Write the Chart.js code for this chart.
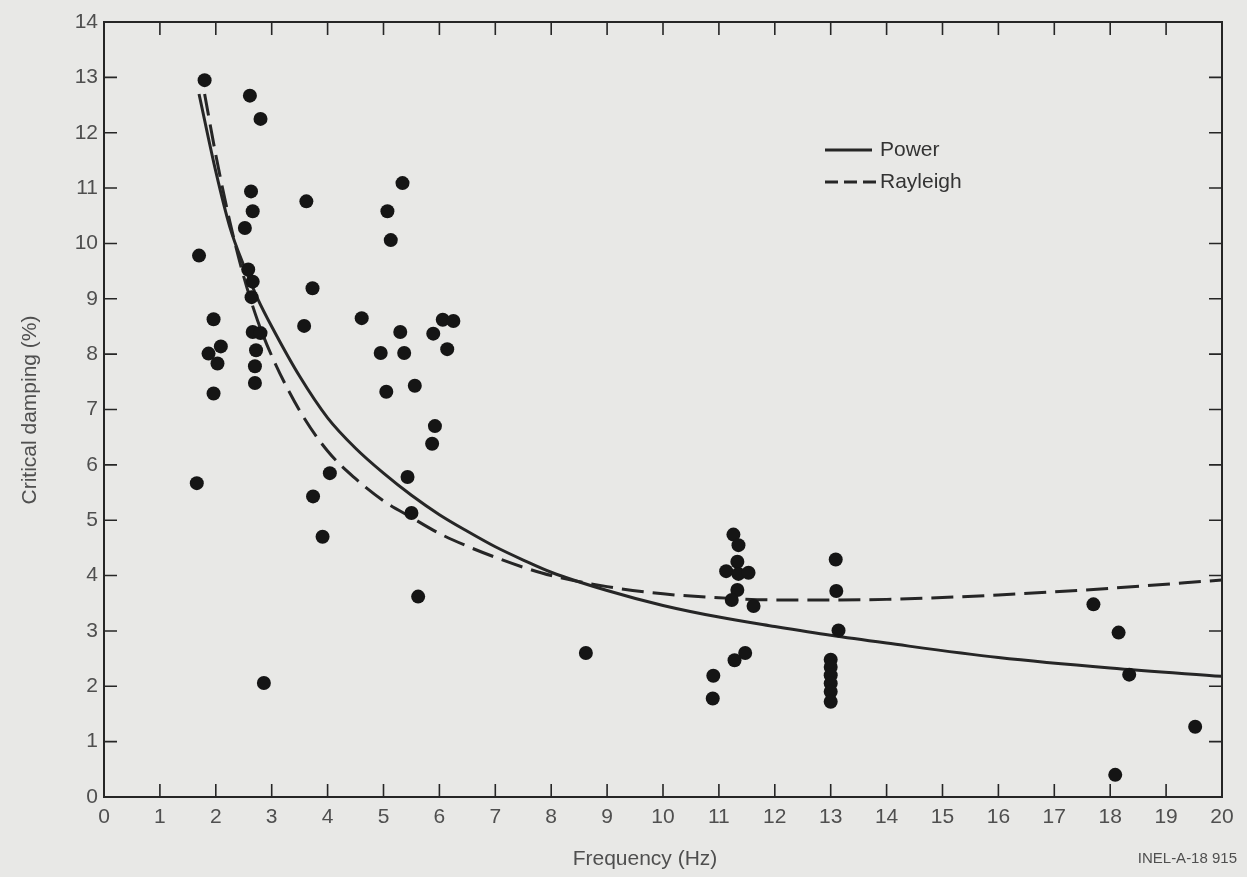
<!DOCTYPE html>
<html>
<head>
<meta charset="utf-8">
<script src="https://cdn.jsdelivr.net/npm/chart.js@4/dist/chart.umd.min.js"></script>
<style>
html,body{margin:0;padding:0;background:#e8e8e6;}
#wrap{width:1247px;height:877px;position:relative;}
</style>
</head>
<body>
<div id="wrap"><canvas id="c" width="1247" height="877"></canvas></div>
<script>
// Measured points: frequency (Hz) and critical damping (%)
const pointFreq = [1.80,2.61,2.80,2.63,2.66,3.62,2.52,1.70,2.58,2.66,2.64,3.73,1.96,3.58,2.66,2.80,2.09,1.87,2.03,2.72,2.70,2.70,1.96,1.66,4.04,3.74,3.91,2.86,
  5.34,5.07,5.13,4.61,5.30,4.95,5.37,6.06,6.25,5.89,6.14,5.05,5.56,5.92,5.87,5.43,5.50,5.62,8.62,
  11.26,11.35,11.33,11.13,11.35,11.53,11.33,11.23,11.62,11.47,11.28,10.90,10.89,
  13.09,13.10,13.14,13.00,13.00,13.00,13.00,13.00,13.00,
  17.70,18.15,18.34,19.52,18.09];
const pointDamp = [12.95,12.67,12.25,10.94,10.58,10.76,10.28,9.78,9.53,9.31,9.03,9.19,8.63,8.51,8.40,8.38,8.14,8.01,7.83,8.07,7.78,7.48,7.29,5.67,5.85,5.43,4.70,2.06,
  11.09,10.58,10.06,8.65,8.40,8.02,8.02,8.62,8.60,8.37,8.09,7.32,7.43,6.70,6.38,5.78,5.13,3.62,2.60,
  4.74,4.55,4.25,4.08,4.03,4.05,3.74,3.56,3.45,2.60,2.47,2.19,1.78,
  4.29,3.72,3.01,2.48,2.35,2.20,2.05,1.90,1.72,
  3.48,2.97,2.21,1.27,0.40];
// Fitted curves
const powerFreq = [1.7,2,2.25,2.5,2.75,3,3.5,4,4.5,5,5.5,6,6.5,7,7.5,8,9,10,11,12,13,14,16,18,20];
const powerDamp = [12.7,11.3,10.3,9.6,9.0,8.5,7.6,6.85,6.3,5.85,5.45,5.1,4.8,4.52,4.28,4.06,3.73,3.46,3.25,3.08,2.92,2.78,2.52,2.33,2.18];
const rayFreq = [1.8,2,2.25,2.5,2.75,3,3.5,4,4.5,5,5.5,6,6.5,7,7.5,8,9,10,11,12,13,14,16,18,20];
const rayDamp = [12.7,11.6,10.4,9.4,8.6,7.97,6.98,6.25,5.75,5.35,5.05,4.76,4.53,4.33,4.15,4.0,3.8,3.67,3.6,3.56,3.56,3.57,3.65,3.77,3.92];
const xTickValues = [0,1,2,3,4,5,6,7,8,9,10,11,12,13,14,15,16,17,18,19,20];
const yTickValues = [0,1,2,3,4,5,6,7,8,9,10,11,12,13,14];
const legendLabels = ['Power','Rayleigh'];

const INK = '#262626';
const TXT = '#4f4f4f';
const FONT = '"Liberation Sans Narrow","Liberation Sans",Arial,sans-serif';

const pts = pointFreq.map((f,i)=>({x:f,y:pointDamp[i]}));
const pw = powerFreq.map((f,i)=>({x:f,y:powerDamp[i]}));
const ry = rayFreq.map((f,i)=>({x:f,y:rayDamp[i]}));

const frame = {
  id:'frame',
  beforeDraw(chart){
    const ctx=chart.ctx;
    ctx.save(); ctx.fillStyle='#e8e8e6'; ctx.fillRect(0,0,chart.width,chart.height); ctx.restore();
  },
  afterDraw(chart){
    const ctx=chart.ctx, a=chart.chartArea, xs=chart.scales.x, ys=chart.scales.y;
    ctx.save();
    ctx.strokeStyle=INK; ctx.lineWidth=2;
    ctx.strokeRect(a.left,a.top,a.right-a.left,a.bottom-a.top);
    ctx.lineWidth=1.6;
    const L=13;
    xTickValues.forEach(v=>{
      const p=xs.getPixelForValue(v);
      if(v===xTickValues[0]||v===xTickValues[xTickValues.length-1]) return;
      ctx.beginPath(); ctx.moveTo(p,a.bottom); ctx.lineTo(p,a.bottom-L);
      ctx.moveTo(p,a.top); ctx.lineTo(p,a.top+L); ctx.stroke();
    });
    yTickValues.forEach(v=>{
      const p=ys.getPixelForValue(v);
      if(v===yTickValues[0]||v===yTickValues[yTickValues.length-1]) return;
      ctx.beginPath(); ctx.moveTo(a.left,p); ctx.lineTo(a.left+L,p);
      ctx.moveTo(a.right,p); ctx.lineTo(a.right-L,p); ctx.stroke();
    });
    // legend
    const lx0=825, lx1=872, ly=[150,182];
    ctx.strokeStyle=INK; ctx.lineWidth=3;
    ctx.beginPath(); ctx.setLineDash([]); ctx.moveTo(lx0,ly[0]); ctx.lineTo(lx1,ly[0]); ctx.stroke();
    ctx.beginPath(); ctx.setLineDash([13,6]); ctx.moveTo(lx0,ly[1]); ctx.lineTo(lx1+4,ly[1]); ctx.stroke();
    ctx.setLineDash([]);
    ctx.fillStyle='#333'; ctx.font='21px "Liberation Sans",Arial,sans-serif'; ctx.textBaseline='middle'; ctx.textAlign='left';
    ctx.fillText(legendLabels[0],880,ly[0]);
    ctx.fillText(legendLabels[1],880,ly[1]);
    // axis titles
    ctx.fillStyle=TXT;
    ctx.font='21px "Liberation Sans",Arial,sans-serif';
    ctx.textAlign='center';
    ctx.fillText('Frequency (Hz)',645,859);
    ctx.save(); ctx.translate(30,410); ctx.rotate(-Math.PI/2); ctx.fillText('Critical damping (%)',0,0); ctx.restore();
    ctx.font='15px "Liberation Sans",Arial,sans-serif'; ctx.textAlign='right';
    ctx.fillText('INEL-A-18 915',1237,859);
    ctx.restore();
  }
};

new Chart(document.getElementById('c'),{
  type:'scatter',
  data:{datasets:[
    {label:'points',data:pts,pointRadius:7,pointHoverRadius:7,backgroundColor:'#151515',borderColor:'#151515',borderWidth:0,showLine:false,order:0},
    {label:legendLabels[0],type:'line',data:pw,borderColor:INK,borderWidth:3,pointRadius:0,fill:false,cubicInterpolationMode:'monotone',order:1},
    {label:legendLabels[1],type:'line',data:ry,borderColor:INK,borderWidth:3,borderDash:[22,9],pointRadius:0,fill:false,cubicInterpolationMode:'monotone',order:2}
  ]},
  options:{
    responsive:false,animation:false,
    layout:{padding:{left:0,right:25,top:22,bottom:0}},
    plugins:{legend:{display:false},tooltip:{enabled:false}},
    scales:{
      x:{type:'linear',min:0,max:20,
        afterFit(s){s.height=80;},
        afterBuildTicks(s){s.ticks=xTickValues.map(v=>({value:v}));},
        grid:{display:false,drawTicks:false},border:{display:false},
        ticks:{padding:8,color:TXT,font:{family:FONT,size:21},maxRotation:0,autoSkip:false}},
      y:{type:'linear',min:0,max:14,
        afterFit(s){s.width=104;},
        afterBuildTicks(s){s.ticks=yTickValues.map(v=>({value:v}));},
        grid:{display:false,drawTicks:false},border:{display:false},
        ticks:{padding:6,color:TXT,font:{family:FONT,size:21},autoSkip:false}}
    }
  },
  plugins:[frame]
});
</script>
</body>
</html>
